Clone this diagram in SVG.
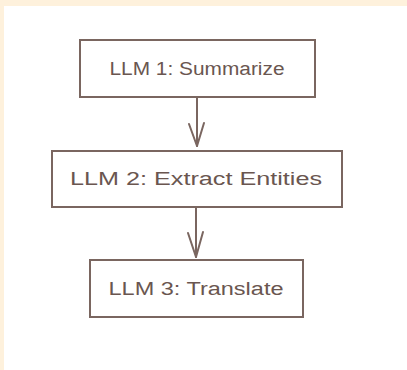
<svg xmlns="http://www.w3.org/2000/svg" width="407" height="370" viewBox="0 0 407 370">
  <style>
    .box { fill: #ffffff; stroke: #7a6660; stroke-width: 2; }
    .label { font-family: "Liberation Sans", "DejaVu Sans", sans-serif; font-size: 18px; fill: #6a5650; text-anchor: middle; }
    .edge { fill: none; stroke: #7a6660; stroke-width: 2; stroke-linecap: round; stroke-linejoin: round; }
  </style>
  <!-- page background with cream margin -->
  <rect x="0" y="0" width="407" height="370" fill="#fef1dc"/>
  <rect x="4" y="6" width="403" height="364" fill="#ffffff"/>

  <g id="connectors">
    <path class="edge" d="M197 97 L197 146"/>
    <path class="edge" d="M189 124 L197 146 L204 123"/>
    <path class="edge" d="M196 207 L196 257"/>
    <path class="edge" d="M188 233 L196 257 L203 232"/>
  </g>

  <g id="llm1">
    <rect class="box" x="80" y="40" width="235" height="57"/>
    <text class="label" x="197" y="75" textLength="175" lengthAdjust="spacingAndGlyphs">LLM 1: Summarize</text>
  </g>

  <g id="llm2">
    <rect class="box" x="52" y="151" width="290" height="56"/>
    <text class="label" x="196" y="185" textLength="252" lengthAdjust="spacingAndGlyphs">LLM 2: Extract Entities</text>
  </g>

  <g id="llm3">
    <rect class="box" x="90" y="260" width="213" height="57"/>
    <text class="label" x="196" y="295" textLength="175" lengthAdjust="spacingAndGlyphs">LLM 3: Translate</text>
  </g>
</svg>
